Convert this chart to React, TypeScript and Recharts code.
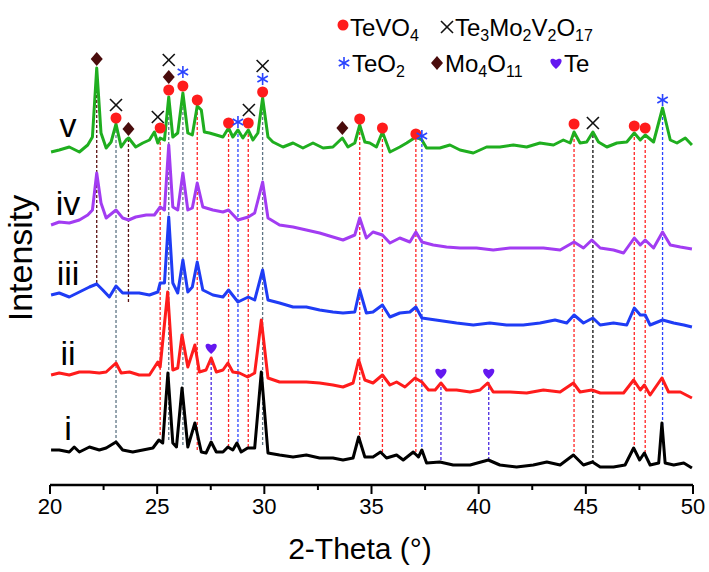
import { ComposedChart, Line, Scatter, XAxis, YAxis, ReferenceLine } from "recharts"

// 2-theta (deg) / intensity (a.u., stacked offsets)
const traceV = [
  [20.05, 333], [20.43, 335], [20.9, 338], [21.37, 333], [21.76, 340], [21.98, 348], [22.18, 417], [22.38, 352],
  [22.62, 337], [22.85, 343], [23.08, 361], [23.32, 338], [23.55, 345], [23.67, 347], [24.0, 338], [24.33, 342],
  [24.64, 345], [24.87, 353], [25.03, 342], [25.14, 347], [25.34, 345], [25.54, 388], [25.73, 348], [25.96, 352],
  [26.2, 392], [26.43, 352], [26.64, 350], [26.87, 379], [27.06, 375], [27.2, 353], [27.44, 352], [27.76, 350],
  [28.07, 348], [28.33, 357], [28.53, 348], [28.77, 355], [29.0, 347], [29.25, 355], [29.47, 345], [29.7, 352],
  [29.92, 387], [30.17, 348], [30.4, 343], [30.87, 338], [31.34, 342], [31.8, 337], [32.27, 342], [32.74, 337],
  [33.2, 338], [33.64, 347], [33.9, 338], [34.22, 342], [34.45, 360], [34.69, 343], [34.92, 342], [35.23, 338],
  [35.51, 353], [35.86, 333], [36.32, 338], [36.64, 342], [37.07, 348], [37.35, 345], [37.57, 337], [38.19, 337],
  [38.66, 340], [39.13, 335], [39.75, 332], [40.37, 338], [40.99, 338], [41.62, 340], [42.24, 338], [42.86, 342],
  [43.49, 340], [43.95, 345], [44.27, 342], [44.45, 353], [44.73, 342], [45.04, 343], [45.33, 353], [45.59, 343],
  [45.98, 338], [46.45, 342], [46.91, 343], [47.26, 352], [47.54, 345], [47.77, 350], [48.16, 343], [48.58, 377],
  [48.94, 345], [49.25, 342], [49.64, 347], [49.95, 340],
]
const traceIV = [
  [20.05, 260], [20.43, 263], [20.9, 262], [21.37, 265], [21.76, 270], [21.98, 275], [22.18, 312], [22.38, 282],
  [22.62, 267], [23.08, 275], [23.39, 267], [23.67, 265], [24.0, 268], [24.49, 270], [24.87, 270], [25.14, 278],
  [25.34, 275], [25.54, 340], [25.73, 278], [25.96, 275], [26.2, 312], [26.43, 275], [26.64, 277], [26.87, 302],
  [27.13, 278], [27.6, 275], [28.07, 273], [28.33, 275], [28.77, 265], [29.25, 268], [29.55, 272], [29.92, 303],
  [30.17, 267], [30.71, 260], [31.34, 258], [31.96, 255], [32.58, 252], [33.2, 248], [33.67, 245], [34.22, 250],
  [34.45, 267], [34.76, 247], [35.07, 253], [35.51, 250], [35.86, 242], [36.32, 247], [36.79, 243], [37.07, 253],
  [37.35, 243], [37.88, 240], [38.5, 238], [39.13, 237], [39.9, 237], [40.68, 235], [41.46, 237], [42.24, 237],
  [43.02, 237], [43.8, 235], [44.45, 243], [44.89, 237], [45.28, 245], [45.67, 237], [46.29, 235], [46.76, 232],
  [47.26, 247], [47.54, 240], [47.77, 245], [48.16, 237], [48.58, 253], [48.94, 240], [49.41, 238], [49.95, 236],
]
const traceIII = [
  [20.05, 190], [20.43, 192], [20.9, 188], [21.37, 193], [21.84, 198], [22.18, 201], [22.46, 195], [22.77, 188],
  [23.08, 199], [23.39, 192], [23.67, 192], [24.16, 192], [24.64, 190], [25.03, 193], [25.14, 202], [25.34, 202],
  [25.54, 268], [25.73, 202], [25.96, 192], [26.2, 225], [26.43, 193], [26.64, 198], [26.87, 223], [27.13, 195],
  [27.6, 190], [28.07, 188], [28.33, 195], [28.77, 183], [29.25, 188], [29.55, 185], [29.92, 215], [30.17, 185],
  [30.71, 182], [31.34, 178], [31.96, 178], [32.58, 175], [33.2, 173], [33.67, 172], [34.22, 173], [34.45, 195],
  [34.76, 172], [35.07, 173], [35.51, 180], [35.86, 168], [36.32, 172], [36.79, 173], [37.07, 178], [37.35, 167],
  [38.0, 165], [38.97, 162], [39.75, 160], [40.52, 162], [41.3, 160], [42.08, 160], [42.86, 162], [43.56, 165],
  [44.11, 162], [44.45, 170], [44.89, 162], [45.33, 167], [45.67, 160], [46.29, 162], [46.91, 160], [47.26, 177],
  [47.54, 170], [47.77, 170], [48.0, 160], [48.58, 165], [49.1, 162], [49.57, 160], [49.95, 158],
]
const traceII = [
  [20.05, 110], [20.43, 112], [20.9, 110], [21.37, 113], [21.84, 113], [22.3, 112], [22.62, 113], [23.08, 122],
  [23.32, 112], [23.71, 113], [24.16, 110], [24.64, 110], [25.03, 123], [25.14, 118], [25.49, 193], [25.73, 115],
  [25.96, 117], [26.16, 150], [26.43, 118], [26.76, 140], [26.97, 113], [27.28, 115], [27.52, 127], [27.76, 113],
  [28.07, 115], [28.3, 122], [28.53, 113], [28.84, 112], [29.22, 108], [29.55, 112], [29.86, 165], [30.17, 107],
  [30.71, 103], [31.34, 103], [31.96, 103], [32.58, 102], [33.2, 100], [33.67, 98], [34.14, 102], [34.4, 125],
  [34.69, 105], [35.07, 102], [35.51, 110], [35.86, 100], [36.17, 103], [36.56, 98], [37.03, 107], [37.35, 103],
  [37.66, 95], [37.97, 95], [38.24, 102], [38.5, 95], [38.97, 95], [39.6, 93], [40.06, 95], [40.42, 102],
  [40.68, 93], [41.46, 93], [42.24, 92], [43.02, 95], [43.8, 93], [44.42, 102], [44.73, 93], [45.28, 95],
  [45.67, 92], [46.29, 92], [46.76, 92], [47.23, 105], [47.54, 95], [47.73, 100], [48.0, 90], [48.55, 107],
  [48.86, 93], [49.41, 93], [49.95, 87],
]
const traceI = [
  [20.05, 35], [20.43, 35], [20.9, 33], [21.13, 38], [21.37, 33], [21.84, 38], [22.3, 35], [22.62, 37],
  [23.08, 43], [23.39, 35], [23.86, 33], [24.33, 35], [24.8, 37], [25.08, 45], [25.26, 42], [25.5, 112],
  [25.73, 42], [25.9, 38], [26.16, 97], [26.43, 38], [26.76, 62], [27.06, 33], [27.28, 32], [27.52, 43],
  [27.76, 33], [28.07, 33], [28.3, 38], [28.53, 35], [28.72, 42], [28.92, 33], [29.22, 37], [29.55, 37],
  [29.86, 113], [30.17, 32], [30.71, 30], [31.34, 28], [31.96, 30], [32.58, 27], [33.2, 27], [33.67, 25],
  [34.14, 27], [34.4, 48], [34.69, 28], [35.07, 28], [35.42, 33], [35.7, 27], [36.17, 30], [36.48, 25],
  [36.95, 33], [37.19, 28], [37.35, 35], [37.57, 22], [38.19, 23], [38.81, 20], [39.6, 20], [40.45, 25],
  [40.99, 20], [41.77, 18], [42.55, 20], [43.18, 23], [43.8, 20], [44.42, 30], [44.89, 20], [45.31, 23],
  [45.67, 18], [46.29, 18], [46.83, 20], [47.23, 37], [47.51, 25], [47.73, 32], [48.0, 20], [48.4, 22],
  [48.55, 62], [48.7, 22], [49.1, 20], [49.57, 22], [49.95, 17],
]

// phase markers above the peaks
const tevo4Marks = [
  [23.08, 367], [25.14, 357], [25.54, 395], [26.2, 399], [26.87, 385], [28.33, 362], [29.25, 362], [29.92, 393],
  [34.45, 366], [35.51, 357], [37.07, 351], [44.45, 361], [47.26, 359], [47.77, 357],
]
const te3Marks = [[23.08, 380], [25.03, 368], [25.54, 425], [29.28, 375], [29.92, 419], [45.33, 362]]
const teo2Marks = [[26.2, 413], [28.77, 363], [29.92, 406], [37.35, 349], [48.58, 385]]
const mo4Marks = [[22.18, 426], [23.66, 356], [25.54, 408], [33.64, 357]]
const teMarks = [[27.52, 137], [38.24, 112], [40.47, 112]]

// dotted guide lines: [2-theta, phase, bottom, top]
const guides: [number, string, number, number][] = [
  [22.18, "mo", 202, 412], [23.08, "mix", 42, 358], [23.66, "mo", 183, 345], [25.14, "tevo", 50, 350],
  [25.54, "mix", 45, 388], [26.2, "mix", 40, 392], [26.87, "tevo", 35, 378], [27.52, "te", 40, 130],
  [28.33, "tevo", 38, 355], [28.77, "teo2", 38, 355], [29.25, "tevo", 38, 355], [29.92, "mix", 40, 387],
  [34.45, "tevo", 45, 360], [35.51, "tevo", 33, 353], [37.07, "tevo", 33, 346], [37.35, "teo2", 33, 343],
  [38.24, "te", 25, 105], [40.47, "te", 25, 105], [44.45, "tevo", 28, 353], [45.33, "te3", 22, 353],
  [47.26, "tevo", 35, 352], [47.77, "tevo", 32, 350], [48.58, "teo2", 60, 377],
]

const sampleLabels = ["v", "iv", "iii", "ii", "i"]
const xTicks = [20, 22.5, 25, 27.5, 30, 32.5, 35, 37.5, 40, 42.5, 45, 47.5, 50]

const guideColors: Record<string, string> = {
  mo: "#5a1010",
  mix: "#5f7585",
  tevo: "#ff2525",
  teo2: "#2a44ff",
  te: "#4a28e0",
  te3: "#111111",
}

const FONT = "'Liberation Sans', Arial, sans-serif"
const TICK_SIZE = 9
const TICK_MARGIN = 4

const toPts = (arr: number[][]) => arr.map(([x, y]) => ({ x, y }))

function CircleMark({ cx, cy }: any) {
  return <circle cx={cx} cy={cy} r={5.5} fill="#ff1c1c" />
}
function CrossMark({ cx, cy }: any) {
  const s = 6
  return (
    <g stroke="#111" strokeWidth={1.6}>
      <line x1={cx - s} y1={cy - s} x2={cx + s} y2={cy + s} />
      <line x1={cx - s} y1={cy + s} x2={cx + s} y2={cy - s} />
    </g>
  )
}
function StarMark({ cx, cy }: any) {
  const s = 6
  const dx = s * 0.87
  const dy = s * 0.5
  return (
    <g stroke="#2a44ff" strokeWidth={1.6}>
      <line x1={cx} y1={cy - s} x2={cx} y2={cy + s} />
      <line x1={cx - dx} y1={cy - dy} x2={cx + dx} y2={cy + dy} />
      <line x1={cx - dx} y1={cy + dy} x2={cx + dx} y2={cy - dy} />
    </g>
  )
}
function DiamondMark({ cx, cy }: any) {
  return <path d={`M${cx},${cy - 7}L${cx + 6},${cy}L${cx},${cy + 7}L${cx - 6},${cy}Z`} fill="#4a0c0c" />
}
function HeartMark({ cx, cy }: any) {
  return (
    <path
      d={`M${cx},${cy + 6}C${cx - 8},${cy},${cx - 7},${cy - 7},${cx},${cy - 3}C${cx + 7},${cy - 7},${cx + 8},${cy},${cx},${cy + 6}Z`}
      fill="#6418f0"
    />
  )
}

function XTick({ x, y, payload }: any) {
  const major = payload.value % 5 === 0
  const top = y - TICK_SIZE - TICK_MARGIN
  return (
    <g>
      <line x1={x} x2={x} y1={top} y2={top + (major ? TICK_SIZE : 5)} stroke="#000" strokeWidth={2} />
      {major && (
        <text x={x} y={y} dy="0.71em" textAnchor="middle" fontSize={22} fontFamily={FONT} fill="#000">
          {payload.value}
        </text>
      )}
    </g>
  )
}

const traces = [
  { name: "i", data: traceI, color: "#000000" },
  { name: "ii", data: traceII, color: "#ff1c1c" },
  { name: "iii", data: traceIII, color: "#1f3cf5" },
  { name: "iv", data: traceIV, color: "#a23cf2" },
  { name: "v", data: traceV, color: "#1fae1f" },
]

const labelY = [137, 215, 285, 365, 440]

export default function App() {
  return (
    <div style={{ position: "absolute", left: 0, top: 0, width: 709, height: 572, background: "#fff" }}>
      <ComposedChart width={709} height={572} margin={{ top: 3, right: 16, bottom: 27, left: 50 }}>
        <XAxis
          type="number"
          dataKey="x"
          domain={[20, 50]}
          ticks={xTicks}
          interval={0}
          height={60}
          tickSize={TICK_SIZE}
          tickMargin={TICK_MARGIN}
          tickLine={false}
          tick={<XTick />}
          axisLine={{ stroke: "#000", strokeWidth: 2.5 }}
          allowDataOverflow
        />
        <XAxis
          xAxisId="top"
          orientation="top"
          type="number"
          domain={[20, 50]}
          height={0}
          tick={false}
          tickLine={false}
          axisLine={{ stroke: "#000", strokeWidth: 2.5 }}
        />
        <YAxis
          type="number"
          domain={[0, 482]}
          width={0}
          tick={false}
          tickLine={false}
          axisLine={{ stroke: "#000", strokeWidth: 2.5 }}
          allowDataOverflow
        />
        <YAxis
          yAxisId="right"
          orientation="right"
          type="number"
          domain={[0, 482]}
          width={0}
          tick={false}
          tickLine={false}
          axisLine={{ stroke: "#000", strokeWidth: 2.5 }}
        />
        {guides.map(([at, phase, lo, hi], i) => (
          <ReferenceLine
            key={`g${i}`}
            segment={[{ x: at, y: lo }, { x: at, y: hi }]}
            stroke={guideColors[phase]}
            strokeWidth={1.3}
            strokeDasharray="3 2"
          />
        ))}
        {traces.map((t) => (
          <Line
            key={t.name}
            data={toPts(t.data)}
            dataKey="y"
            type="linear"
            stroke={t.color}
            strokeWidth={3}
            strokeLinejoin="round"
            dot={false}
            isAnimationActive={false}
          />
        ))}
        <Scatter data={toPts(tevo4Marks)} dataKey="y" shape={<CircleMark />} isAnimationActive={false} />
        <Scatter data={toPts(te3Marks)} dataKey="y" shape={<CrossMark />} isAnimationActive={false} />
        <Scatter data={toPts(teo2Marks)} dataKey="y" shape={<StarMark />} isAnimationActive={false} />
        <Scatter data={toPts(mo4Marks)} dataKey="y" shape={<DiamondMark />} isAnimationActive={false} />
        <Scatter data={toPts(teMarks)} dataKey="y" shape={<HeartMark />} isAnimationActive={false} />
      </ComposedChart>
      <svg
        width={709}
        height={572}
        style={{ position: "absolute", left: 0, top: 0, pointerEvents: "none" }}
        fontFamily={FONT}
      >
        {sampleLabels.map((s, i) => (
          <text key={s} x={68} y={labelY[i]} textAnchor="middle" fontSize={34} fill="#000">
            {s}
          </text>
        ))}
        <text x={360} y={559} textAnchor="middle" fontSize={30} fill="#000">
          2-Theta (°)
        </text>
        <text x={32} y={258} textAnchor="middle" fontSize={34} fill="#000" transform="rotate(-90 32 258)">
          Intensity
        </text>
        <CircleMark cx={343} cy={25} />
        <text x={350} y={36} fontSize={24} fill="#000">
          TeVO<tspan fontSize={16} dy={5}>4</tspan>
        </text>
        <CrossMark cx={447} cy={27} />
        <text x={455} y={36} fontSize={24} fill="#000">
          Te<tspan fontSize={16} dy={5}>3</tspan>
          <tspan dy={-5}>Mo</tspan>
          <tspan fontSize={16} dy={5}>2</tspan>
          <tspan dy={-5}>V</tspan>
          <tspan fontSize={16} dy={5}>2</tspan>
          <tspan dy={-5}>O</tspan>
          <tspan fontSize={16} dy={5}>17</tspan>
        </text>
        <StarMark cx={344} cy={63} />
        <text x={352} y={72} fontSize={24} fill="#000">
          TeO<tspan fontSize={16} dy={5}>2</tspan>
        </text>
        <DiamondMark cx={437} cy={63} />
        <text x={445} y={72} fontSize={24} fill="#000">
          Mo<tspan fontSize={16} dy={5}>4</tspan>
          <tspan dy={-5}>O</tspan>
          <tspan fontSize={16} dy={5}>11</tspan>
        </text>
        <HeartMark cx={556} cy={63} />
        <text x={564} y={72} fontSize={24} fill="#000">
          Te
        </text>
      </svg>
    </div>
  )
}
